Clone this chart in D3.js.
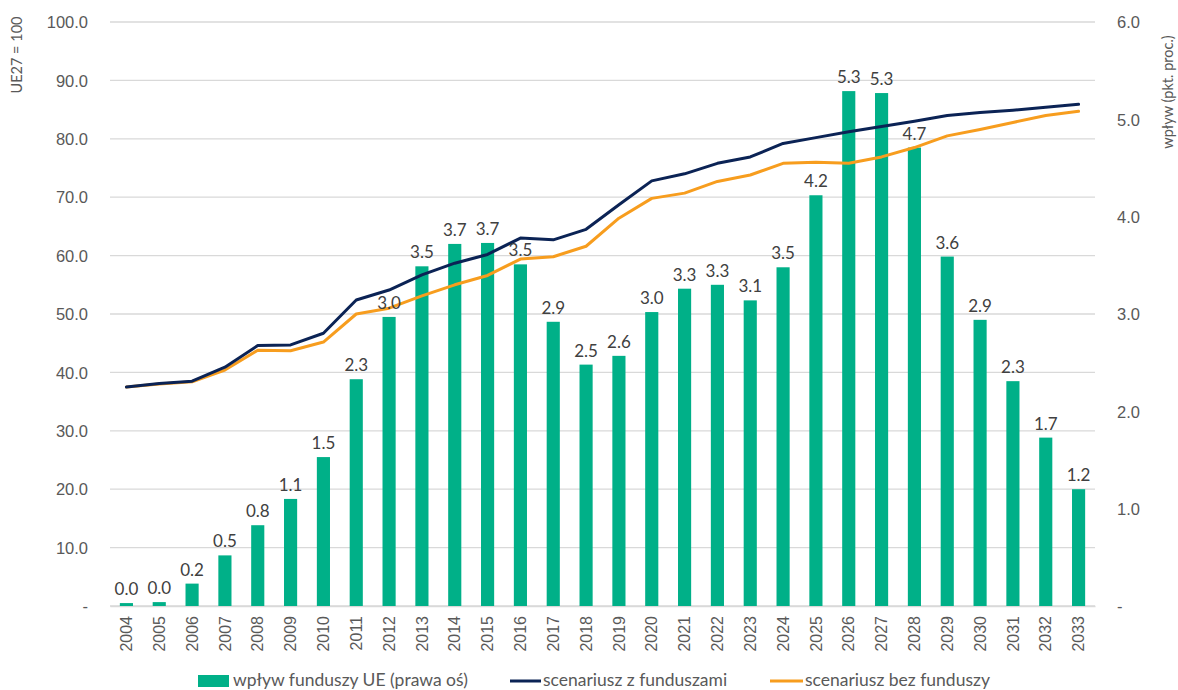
<!DOCTYPE html>
<html lang="pl">
<head>
<meta charset="utf-8">
<script src="https://cdn.jsdelivr.net/npm/d3@7"></script>
<style>
  html, body { margin: 0; padding: 0; background: #fff; }
  svg { display: block; font-family: Lato, "Open Sans", "Liberation Sans", sans-serif; }
</style>
</head>
<body>
<svg id="chart" width="1178" height="690"></svg>
<script>
// Lata
const years = ["2004","2005","2006","2007","2008","2009","2010","2011","2012","2013",
  "2014","2015","2016","2017","2018","2019","2020","2021","2022","2023",
  "2024","2025","2026","2027","2028","2029","2030","2031","2032","2033"];

// Wpływ funduszy UE (pkt. proc.) – prawa oś
const impact = [0.03,0.04,0.23,0.52,0.83,1.10,1.53,2.33,2.97,3.49,
  3.72,3.73,3.51,2.92,2.48,2.57,3.02,3.26,3.30,3.14,
  3.48,4.22,5.29,5.27,4.71,3.59,2.94,2.31,1.73,1.20];

// Scenariusz z funduszami (UE27 = 100) – lewa oś
const withFunds = [37.5,38.1,38.5,40.9,44.6,44.7,46.7,52.4,54.1,56.7,
  58.7,60.2,63.0,62.7,64.5,68.7,72.8,74.0,75.8,76.9,
  79.2,80.2,81.2,82.1,83.0,84.0,84.5,84.9,85.4,85.9];

// Scenariusz bez funduszy (UE27 = 100) – lewa oś
const withoutFunds = [37.5,38.0,38.4,40.4,43.8,43.7,45.2,50.0,51.0,53.1,
  55.0,56.6,59.4,59.8,61.6,66.4,69.8,70.7,72.7,73.8,
  75.8,76.0,75.8,76.9,78.5,80.5,81.6,82.8,84.0,84.7];

const leftTicks = [0,10,20,30,40,50,60,70,80,90,100];
const rightTicks = [0,1,2,3,4,5,6];

const legendLabels = ["wpływ funduszy UE (prawa oś)", "scenariusz z funduszami", "scenariusz bez funduszy"];

const colors = { bar: "#00B088", navy: "#0B2355", orange: "#F79D1E", grid: "#D9D9D9", tick: "#595959", label: "#404040" };

const svg = d3.select("#chart");
const plot = { left: 110, right: 1095, top: 22, bottom: 606 };

const x = d3.scaleBand().domain(years).range([plot.left, plot.right]).paddingInner(0.6).paddingOuter(0.3);
const yL = d3.scaleLinear().domain([0, 100]).range([plot.bottom, plot.top]);
const yR = d3.scaleLinear().domain([0, 6]).range([plot.bottom, plot.top]);

const fmt = d3.format(".1f");
const tickFmt = v => v === 0 ? "-" : fmt(v);

// Linie siatki
svg.append("g")
  .selectAll("line")
  .data(leftTicks)
  .join("line")
  .attr("x1", plot.left).attr("x2", plot.right)
  .attr("y1", d => yL(d)).attr("y2", d => yL(d))
  .attr("stroke", colors.grid).attr("stroke-width", 1.3);

// Lewa oś
const axL = svg.append("g")
  .attr("transform", `translate(${plot.left - 22},0)`)
  .call(d3.axisLeft(yL).tickValues(leftTicks).tickFormat(tickFmt).tickSize(0).tickPadding(0));
axL.select(".domain").remove();
axL.selectAll("text").attr("fill", colors.tick).style("font-size", "16.5px")
  .attr("x", 0).attr("dy", "0.35em");

// Prawa oś
const axR = svg.append("g")
  .attr("transform", `translate(${plot.right + 22},0)`)
  .call(d3.axisRight(yR).tickValues(rightTicks).tickFormat(tickFmt).tickSize(0).tickPadding(0));
axR.select(".domain").remove();
axR.selectAll("text").attr("fill", colors.tick).style("font-size", "16.5px").attr("dy", "0.35em");

// Oś X
const axX = svg.append("g")
  .attr("transform", `translate(0,${plot.bottom})`)
  .call(d3.axisBottom(x).tickSize(0));
axX.select(".domain").attr("stroke", colors.grid).attr("stroke-width", 1.3);
axX.selectAll("text")
  .attr("fill", colors.tick).style("font-size", "16px")
  .attr("transform", "rotate(-90)")
  .attr("x", -10).attr("y", 0).attr("dy", "0.35em")
  .attr("text-anchor", "end");

// Słupki
svg.append("g")
  .selectAll("rect")
  .data(impact)
  .join("rect")
  .attr("x", (d, i) => x(years[i]))
  .attr("width", x.bandwidth())
  .attr("y", d => yR(d))
  .attr("height", d => yR(0) - yR(d))
  .attr("fill", colors.bar);

// Linie scenariuszy
const line = d3.line()
  .x((d, i) => x(years[i]) + x.bandwidth() / 2)
  .y(d => yL(d));

svg.append("path").datum(withoutFunds)
  .attr("d", line).attr("fill", "none")
  .attr("stroke", colors.orange).attr("stroke-width", 3).attr("stroke-linejoin", "round").attr("stroke-linecap", "round");

svg.append("path").datum(withFunds)
  .attr("d", line).attr("fill", "none")
  .attr("stroke", colors.navy).attr("stroke-width", 3).attr("stroke-linejoin", "round").attr("stroke-linecap", "round");

// Etykiety wartości
svg.append("g")
  .selectAll("text")
  .data(impact)
  .join("text")
  .attr("x", (d, i) => x(years[i]) + x.bandwidth() / 2)
  .attr("y", d => yR(d) - 8)
  .attr("text-anchor", "middle")
  .attr("fill", colors.label)
  .style("font-size", "17px")
  .text(d => fmt(d));

// Tytuły osi
svg.append("text")
  .attr("transform", `translate(22,55) rotate(-90)`)
  .attr("text-anchor", "middle")
  .attr("fill", colors.tick).style("font-size", "14.5px")
  .text("UE27 = 100");

svg.append("text")
  .attr("transform", `translate(1173,92) rotate(-90)`)
  .attr("text-anchor", "middle")
  .attr("fill", colors.tick).style("font-size", "14.5px")
  .text("wpływ (pkt. proc.)");

// Legenda
const legend = svg.append("g").attr("transform", "translate(0,680)");
legend.append("rect").attr("x", 198).attr("y", -5).attr("width", 31).attr("height", 12).attr("fill", colors.bar);
legend.append("text").attr("x", 233).attr("y", 0).attr("dy", "0.35em")
  .attr("fill", colors.tick).style("font-size", "17.5px").text(legendLabels[0]);
legend.append("line").attr("x1", 510).attr("x2", 541).attr("y1", 1).attr("y2", 1)
  .attr("stroke", colors.navy).attr("stroke-width", 3);
legend.append("text").attr("x", 543).attr("y", 0).attr("dy", "0.35em")
  .attr("fill", colors.tick).style("font-size", "17.5px").text(legendLabels[1]);
legend.append("line").attr("x1", 770).attr("x2", 803).attr("y1", 1).attr("y2", 1)
  .attr("stroke", colors.orange).attr("stroke-width", 3);
legend.append("text").attr("x", 805).attr("y", 0).attr("dy", "0.35em")
  .attr("fill", colors.tick).style("font-size", "17.5px").text(legendLabels[2]);
</script>
</body>
</html>
